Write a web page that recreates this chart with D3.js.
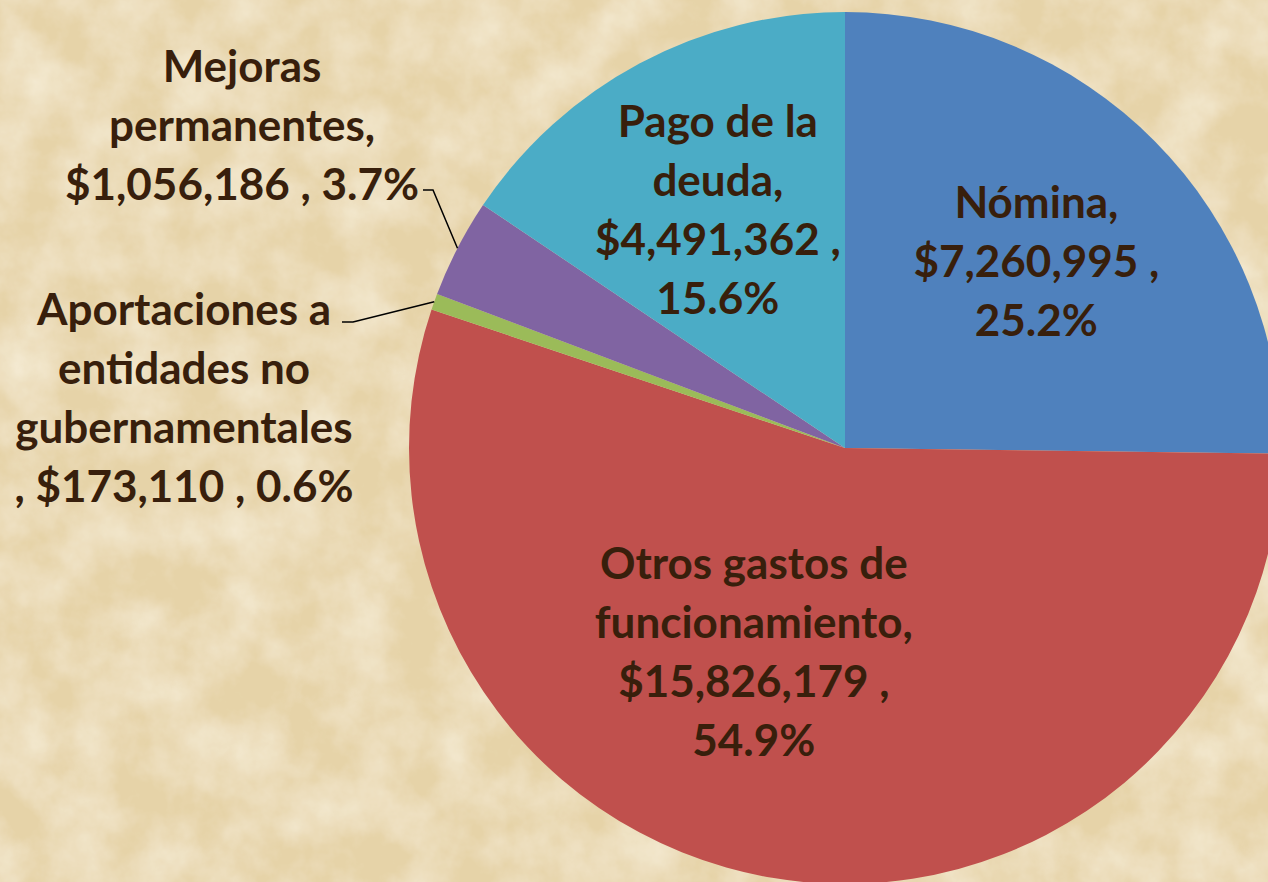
<!DOCTYPE html>
<html>
<head>
<meta charset="utf-8">
<script src="https://cdn.jsdelivr.net/npm/d3@7"></script>
<style>
  html, body { margin: 0; padding: 0; background: #ead8ae; }
  svg { display: block; }
  .lbl { font-family: Lato, 'Noto Sans', sans-serif; font-weight: bold; fill: #381f0c; }
</style>
</head>
<body>
<div id="chart"></div>
<script>
// data
var categories = ['Nómina', 'Otros gastos de funcionamiento', 'Aportaciones a entidades no gubernamentales', 'Mejoras permanentes', 'Pago de la deuda']
var amounts = [7260995, 15826179, 173110, 1056186, 4491362]
var percents = ['25.2%', '54.9%', '0.6%', '3.7%', '15.6%']
var amountLabels = ['$7,260,995', '$15,826,179', '$173,110', '$1,056,186', '$4,491,362']
var labelLines = [
  ['Nómina,', '$7,260,995 ,', '25.2%'],
  ['Otros gastos de', 'funcionamiento,', '$15,826,179 ,', '54.9%'],
  ['Aportaciones a', 'entidades no', 'gubernamentales', ', $173,110 , 0.6%'],
  ['Mejoras', 'permanentes,', '$1,056,186 , 3.7%'],
  ['Pago de la', 'deuda,', '$4,491,362 ,', '15.6%']
]
var colors = ['#4f81bd', '#c0504d', '#9bbb59', '#8064a2', '#4bacc6']

var width = 1268
var height = 882
var cx = 845
var cy = 448
var radius = 436

var svg = d3.select('#chart')
  .append('svg')
  .attr('width', width)
  .attr('height', height)

// parchment background
var defs = svg.append('defs')
var filt = defs.append('filter').attr('id', 'paper')
  .attr('x', 0).attr('y', 0).attr('width', '100%').attr('height', '100%')
filt.append('feTurbulence')
  .attr('type', 'fractalNoise')
  .attr('baseFrequency', '0.018')
  .attr('numOctaves', 5)
  .attr('seed', 3)
  .attr('result', 'noise')
filt.append('feColorMatrix')
  .attr('in', 'noise')
  .attr('type', 'matrix')
  .attr('values', '0 0 0 0 0.96  0 0 0 0 0.90  0 0 0 0 0.76  1.1 0 0 0 -0.35')
  .attr('result', 'spots')
filt.append('feComposite').attr('in', 'spots').attr('in2', 'SourceGraphic').attr('operator', 'over')

svg.append('rect')
  .attr('width', width)
  .attr('height', height)
  .attr('fill', '#e6d3a8')
  .attr('filter', 'url(#paper)')

var pie = d3.pie().sort(null).value(function (d) { return d })
var arcs = pie(amounts)
var arc = d3.arc().innerRadius(0).outerRadius(radius)

var g = svg.append('g').attr('transform', 'translate(' + cx + ',' + cy + ')')

g.selectAll('path')
  .data(arcs)
  .enter()
  .append('path')
  .attr('d', arc)
  .attr('fill', function (d, i) { return colors[i] })

// label anchor: slice centroid plus a nudge (outside labels sit left of the pie)
var labelArc = d3.arc().innerRadius(radius * 0.62).outerRadius(radius * 0.62)
var nudges = [[-1, 3], [-46, -63], [0, 0], [0, 0], [0, 0]]

function labelCenter (d, i) {
  var c = labelArc.centroid(d)
  if (i === 2) return [-661, -50]
  if (i === 3) return [-603, -323]
  return [c[0] + nudges[i][0], c[1] + nudges[i][1]]
}

var lineH = 59
var fontSize = 44

// leader lines for outside labels
function edgePoint (d) {
  var a = (d.startAngle + d.endAngle) / 2
  return [Math.sin(a) * radius, -Math.cos(a) * radius]
}
var leaders = [
  { i: 3, from: [-422, -258], elbow: [-412, -258] },
  { i: 2, from: [-503, -126], elbow: [-492, -126] }
]
leaders.forEach(function (l) {
  var p = edgePoint(arcs[l.i])
  g.append('path')
    .attr('d', d3.line()([l.from, l.elbow, p]))
    .attr('fill', 'none')
    .attr('stroke', '#000')
    .attr('stroke-width', 1.5)
})

arcs.forEach(function (d, i) {
  var c = labelCenter(d, i)
  var lines = labelLines[i]
  var t = g.append('text')
    .attr('class', 'lbl')
    .attr('text-anchor', 'middle')
    .attr('font-size', fontSize)
  lines.forEach(function (s, k) {
    t.append('tspan')
      .attr('x', c[0])
      .attr('y', c[1] + (k - (lines.length - 1) / 2) * lineH + fontSize * 0.36)
      .text(s)
  })
})
</script>
</body>
</html>
